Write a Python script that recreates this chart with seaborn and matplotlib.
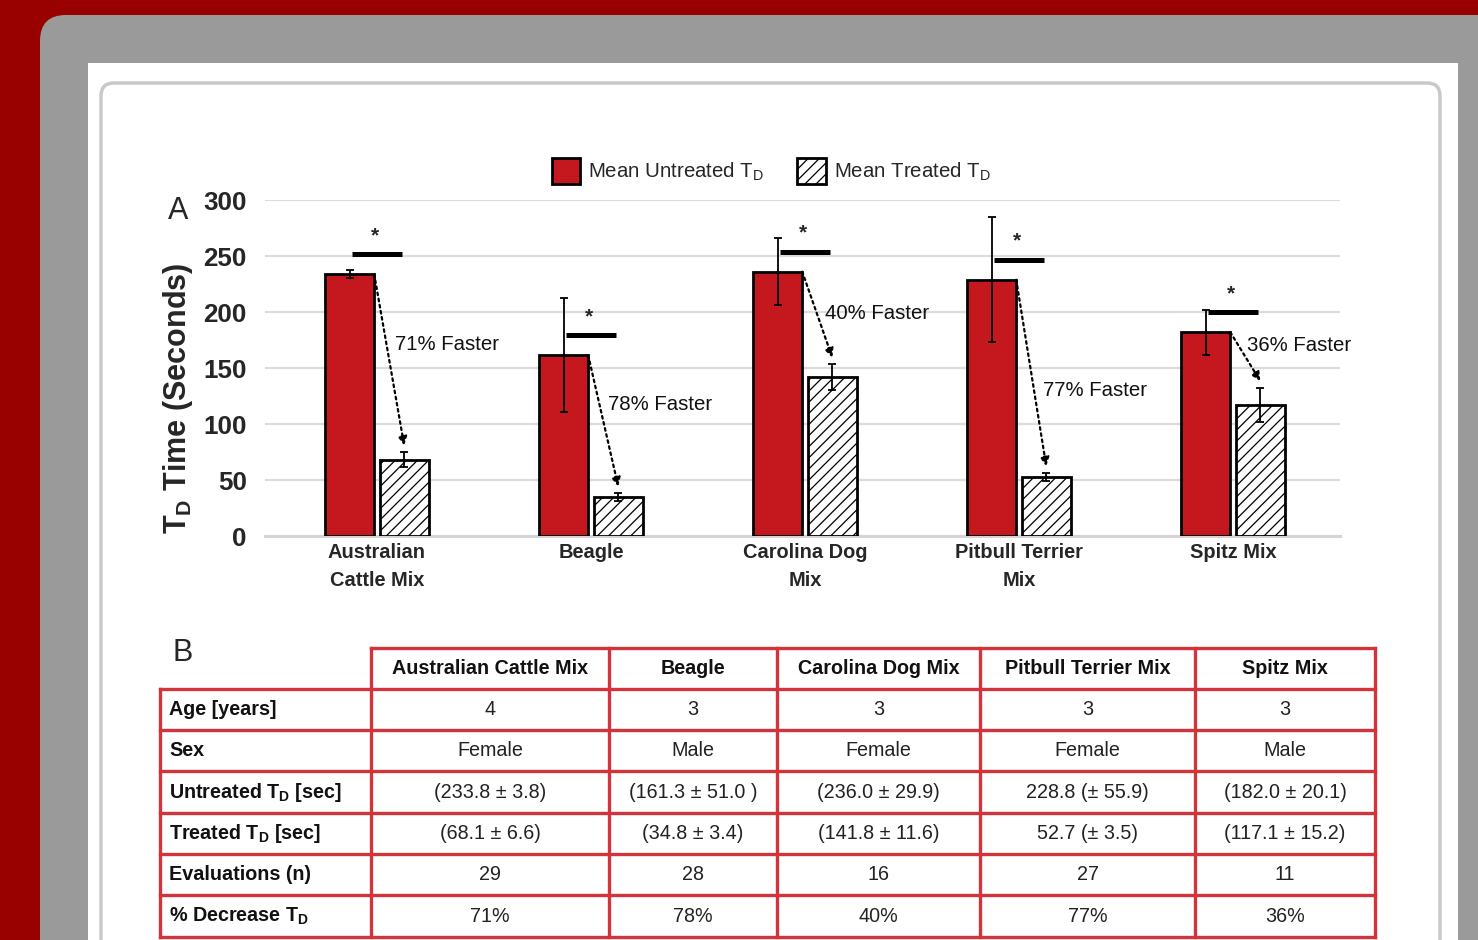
import matplotlib
matplotlib.use("Agg")
import matplotlib.pyplot as plt
import numpy as np
import pandas as pd
import seaborn as sns
from matplotlib import font_manager
from matplotlib.patches import FancyBboxPatch, Rectangle, Patch

# ---- chart data -------------------------------------------------------------
breeds = ["Australian\nCattle Mix", "Beagle", "Carolina Dog\nMix",
          "Pitbull Terrier\nMix", "Spitz Mix"]
untreated_mean = [233.8, 161.3, 236.0, 228.8, 182.0]
untreated_sd = [3.8, 51.0, 29.9, 55.9, 20.1]
treated_mean = [68.1, 34.8, 141.8, 52.7, 117.1]
treated_sd = [6.6, 3.4, 11.6, 3.5, 15.2]
pct_faster = [71, 78, 40, 77, 36]
y_ticks = [0, 50, 100, 150, 200, 250, 300]

# height at which each "xx% Faster" note sits
faster_label_y = [171, 117, 199, 130, 170]

# ---- table data -------------------------------------------------------------
table_columns = ["Australian Cattle Mix", "Beagle", "Carolina Dog Mix",
                 "Pitbull Terrier Mix", "Spitz Mix"]
table_row_labels = ["Age [years]", "Sex", "Untreated T$_D$ [sec]",
                    "Treated T$_D$ [sec]", "Evaluations (n)", "% Decrease T$_D$"]
ages = ["4", "3", "3", "3", "3"]
sexes = ["Female", "Male", "Female", "Female", "Male"]
untreated_cells = ["(233.8 ± 3.8)", "(161.3 ± 51.0 )", "(236.0 ± 29.9)",
                   "228.8 (± 55.9)", "(182.0 ± 20.1)"]
treated_cells = ["(68.1 ± 6.6)", "(34.8 ± 3.4)", "(141.8 ± 11.6)",
                 "52.7 (± 3.5)", "(117.1 ± 15.2)"]
evaluations = ["29", "28", "16", "27", "11"]
decrease_cells = ["71%", "78%", "40%", "77%", "36%"]
table_body = [ages, sexes, untreated_cells, treated_cells, evaluations, decrease_cells]

# ---- styling ----------------------------------------------------------------
RED = "#C5171E"
MAROON = "#990000"
PANEL_GRAY = "#9A9A9A"
TABLE_RED = "#D3333A"

sns.set_style("white")
available = {f.name for f in font_manager.fontManager.ttflist}
if "Liberation Sans Narrow" in available:
    BASE = "Liberation Sans Narrow"
    SCALE = 1.0
else:
    BASE = "Liberation Sans"
    SCALE = 0.89
plt.rcParams["font.family"] = [BASE, "DejaVu Sans"]
plt.rcParams["mathtext.default"] = "regular"
plt.rcParams["hatch.linewidth"] = 0.9


def fs(size):
    return size * SCALE


W, H = 1478, 940
fig = plt.figure(figsize=(W / 100, H / 100), dpi=100, facecolor=MAROON)

# background layer in pixel coordinates
bg = fig.add_axes([0, 0, 1, 1], zorder=0)
bg.set_xlim(0, W)
bg.set_ylim(H, 0)
bg.axis("off")
bg.add_patch(FancyBboxPatch((40, 15), 1600, 1100,
                            boxstyle="round,pad=0,rounding_size=26",
                            facecolor=PANEL_GRAY, edgecolor="none"))
bg.add_patch(Rectangle((88, 63), 1458 - 88, 1000, facecolor="white", edgecolor="none"))
bg.add_patch(FancyBboxPatch((101, 83), 1440 - 101, 1000,
                            boxstyle="round,pad=0,rounding_size=13",
                            facecolor="white", edgecolor="#C9C9C9", linewidth=2.5))

bg.text(178, 211, "A", fontsize=fs(26) * 0.95, ha="center", va="center")
bg.text(183, 653, "B", fontsize=fs(26) * 0.95, ha="center", va="center")

# ---- panel A: bar chart -----------------------------------------------------
ax = fig.add_axes([265 / W, (H - 536) / H, (1340 - 265) / W, (536 - 200) / H], zorder=1)
ax.set_facecolor("none")

df = pd.DataFrame({
    "breed": breeds * 2,
    "condition": ["Mean Untreated"] * len(breeds) + ["Mean Treated"] * len(breeds),
    "time": untreated_mean + treated_mean,
})
sns.barplot(data=df, x="breed", y="time", hue="condition", order=breeds,
            hue_order=["Mean Untreated", "Mean Treated"],
            palette={"Mean Untreated": RED, "Mean Treated": "white"},
            saturation=1, width=0.51, gap=0.1, errorbar=None, legend=False,
            edgecolor="black", linewidth=2, ax=ax, zorder=3)

for bar in ax.containers[1]:
    bar.set_hatch("///")

u_bars = list(ax.containers[0])
t_bars = list(ax.containers[1])
u_x = np.array([b.get_x() + b.get_width() / 2 for b in u_bars])
t_x = np.array([b.get_x() + b.get_width() / 2 for b in t_bars])
u_right = np.array([b.get_x() + b.get_width() for b in u_bars])

ax.errorbar(u_x, untreated_mean, yerr=untreated_sd, fmt="none", ecolor="black",
            elinewidth=1.3, capsize=3, capthick=1.3, zorder=4)
ax.errorbar(t_x, treated_mean, yerr=treated_sd, fmt="none", ecolor="black",
            elinewidth=1.3, capsize=3, capthick=1.3, zorder=4)

centers = np.arange(len(breeds))
for i, c in enumerate(centers):
    # significance bar with star
    y_sig = untreated_mean[i] + 18
    ax.plot([c - 0.115, c + 0.115], [y_sig, y_sig], color="black", lw=3.6,
            solid_capstyle="butt", zorder=5)
    ax.text(c - 0.01, y_sig + 8, "*", fontsize=15, fontweight="bold",
            ha="center", va="bottom", zorder=5)

    # dotted arrow from untreated to treated bar
    x0, y0 = u_right[i], untreated_mean[i]
    x1, y1 = t_x[i], treated_mean[i] + treated_sd[i] + 6
    ax.annotate("", xy=(x1, y1), xytext=(x0, y0),
                arrowprops=dict(arrowstyle="-|>", linestyle=(0, (1.2, 1.6)), lw=1.6,
                                color="black", mutation_scale=13,
                                shrinkA=0, shrinkB=0),
                zorder=5)

    # percent-faster note beside the arrow
    ly = faster_label_y[i]
    frac = (y0 - ly) / (y0 - y1)
    lx = x0 + frac * (x1 - x0) + 0.04
    ax.text(lx, ly, f"{pct_faster[i]}% Faster", fontsize=fs(16.5),
            ha="left", va="center", color="#111111", zorder=5)

ax.set_xlim(-0.523, 4.5)
ax.set_ylim(0, 300)
ax.set_yticks(y_ticks)
ax.yaxis.grid(True, color="#DCDCDC", lw=1.6, zorder=0)
ax.set_axisbelow(True)
for side in ["top", "right", "left"]:
    ax.spines[side].set_visible(False)
ax.spines["bottom"].set_color("#D4D4D4")
ax.spines["bottom"].set_linewidth(2.2)
ax.tick_params(axis="both", length=0)
ax.tick_params(axis="y", pad=13)
ax.tick_params(axis="x", pad=5)
for lab in ax.get_yticklabels():
    lab.set_fontsize(fs(21))
    lab.set_fontweight("bold")
for lab in ax.get_xticklabels():
    lab.set_fontsize(fs(16.2))
    lab.set_fontweight("bold")
    lab.set_linespacing(1.6)
    lab.set_va("top")
ax.set_xlabel("")
ax.set_ylabel("T$_D$ Time (Seconds)", fontsize=22, fontweight="bold",
              family=["Liberation Sans", "DejaVu Sans"])
ax.yaxis.label.set_va("center")
ax.yaxis.set_label_coords((178 - 265) / (1340 - 265), (536 - 398) / (536 - 200))

legend_handles = [
    Patch(facecolor=RED, edgecolor="black", linewidth=2, label="Mean Untreated T$_D$"),
    Patch(facecolor="white", edgecolor="black", linewidth=2, hatch="///",
          label="Mean Treated T$_D$"),
]
ax.legend(handles=legend_handles, loc="center", ncol=2, frameon=False,
          bbox_to_anchor=(771 / W, 1 - 171 / H), bbox_transform=fig.transFigure,
          fontsize=fs(16.5), handlelength=1.4, handleheight=1.6,
          handletextpad=0.4, columnspacing=1.6)

# ---- panel B: table ---------------------------------------------------------
col_edges = [160, 371, 609, 777, 980, 1195, 1375]
row_edges = [648, 689, 730, 771, 813, 854, 895, 937]
line_kw = dict(color=TABLE_RED, lw=2.4, solid_capstyle="projecting")

bg.plot([col_edges[1], col_edges[-1]], [row_edges[0], row_edges[0]], **line_kw)
for y in row_edges[1:]:
    bg.plot([col_edges[0], col_edges[-1]], [y, y], **line_kw)
bg.plot([col_edges[0], col_edges[0]], [row_edges[1], row_edges[-1]], **line_kw)
for x in col_edges[1:]:
    bg.plot([x, x], [row_edges[0], row_edges[-1]], **line_kw)

col_mid = [(a + b) / 2 for a, b in zip(col_edges[1:-1], col_edges[2:])]
row_mid = [(a + b) / 2 for a, b in zip(row_edges[:-1], row_edges[1:])]

for cx, name in zip(col_mid, table_columns):
    bg.text(cx, row_mid[0], name, fontsize=fs(16), fontweight="bold",
            ha="center", va="center", color="#111111")
for r, (label, values) in enumerate(zip(table_row_labels, table_body), start=1):
    bg.text(col_edges[0] + 9, row_mid[r], label, fontsize=fs(16), fontweight="bold",
            ha="left", va="center", color="#111111")
    for cx, v in zip(col_mid, values):
        bg.text(cx, row_mid[r], v, fontsize=fs(16), ha="center", va="center",
                color="#222222")

fig.savefig("out.png", dpi=100, facecolor=MAROON)
